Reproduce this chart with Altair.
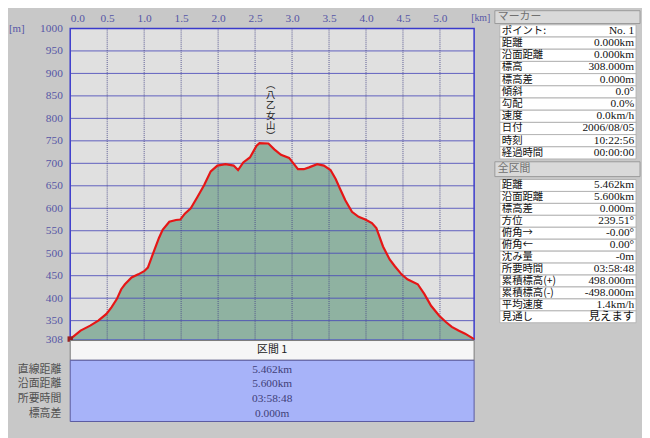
import altair as alt
import pandas as pd

# ---------------- data ----------------
dist_km = [0.00, 0.14, 0.27, 0.38, 0.49, 0.56, 0.63, 0.69, 0.74, 0.83, 0.92, 1.00, 1.05, 1.09,
           1.14, 1.20, 1.25, 1.34, 1.43, 1.49, 1.55, 1.63, 1.72, 1.81, 1.90, 1.99, 2.10, 2.21,
           2.27, 2.34, 2.43, 2.52, 2.56, 2.68, 2.76, 2.85, 2.96, 3.08, 3.16, 3.23, 3.34, 3.43,
           3.52, 3.59, 3.65, 3.72, 3.81, 3.90, 3.99, 4.08, 4.14, 4.23, 4.32, 4.39, 4.48, 4.56,
           4.70, 4.79, 4.88, 4.99, 5.08, 5.16, 5.25, 5.34, 5.462]
elev_m = [309, 328, 339, 350, 365, 380, 398, 420, 431, 446, 453, 460, 468, 486,
          508, 534, 552, 570, 574, 575, 588, 600, 625, 651, 682, 695, 698, 695,
          685, 702, 713, 739, 745, 744, 731, 719, 712, 687, 687, 691, 698, 695,
          685, 665, 643, 618, 592, 581, 575, 567, 556, 515, 486, 471, 453, 442,
          431, 409, 383, 361, 347, 336, 328, 321, 309]

x_ticks = [0.0, 0.5, 1.0, 1.5, 2.0, 2.5, 3.0, 3.5, 4.0, 4.5, 5.0]
y_ticks = [308, 350, 400, 450, 500, 550, 600, 650, 700, 750, 800, 850, 900, 950, 1000]
x_grid = [0.5, 1.0, 1.5, 2.0, 2.5, 3.0, 3.5, 4.0, 4.5, 5.0]
y_grid = [350, 400, 450, 500, 550, 600, 650, 700, 750, 800, 850, 900, 950]

peak_name = ["︵", "八", "乙", "女", "山", "︶"]
peak_pos = [2.71, 886]

marker_title = "マーカー"
marker_labels = ["ポイント:", "距離", "沿面距離", "標高", "標高差", "傾斜", "勾配", "速度",
                 "日付", "時刻", "経過時間"]
marker_values = ["No. 1", "0.000km", "0.000km", "308.000m", "0.000m", "0.0°", "0.0%",
                 "0.0km/h", "2006/08/05", "10:22:56", "00:00:00"]

total_title = "全区間"
total_labels = ["距離", "沿面距離", "標高差", "方位", "俯角→", "俯角←", "沈み量", "所要時間",
                "累積標高(+)", "累積標高(-)", "平均速度", "見通し"]
total_values = ["5.462km", "5.600km", "0.000m", "239.51°", "-0.00°", "0.00°", "-0m",
                "03:58:48", "498.000m", "-498.000m", "1.4km/h", "見えます"]

section_title = "区間 1"
section_labels = ["直線距離", "沿面距離", "所要時間", "標高差"]
section_values = ["5.462km", "5.600km", "03:58:48", "0.000m"]

unit_y = "[m]"
unit_x = "[km]"

# ---------------- layout / style ----------------
W, H = 409, 315
JP = "Noto Sans CJK JP"
NUM = "Liberation Serif, Noto Sans CJK JP"
AXIS_COL = "#5656a6"

one = pd.DataFrame({"k": [0]})
prof = pd.DataFrame({"d": dist_km, "e": elev_m})

xs = alt.Scale(domain=[0, 5.462], nice=False, zero=False)
ys = alt.Scale(domain=[308, 1000], nice=False, zero=False)

area = alt.Chart(prof).mark_area(color="#8fb2a1", opacity=1, clip=True).encode(
    x=alt.X("d:Q", scale=xs, title=None,
            axis=alt.Axis(orient="top", values=x_ticks, format=".1f", grid=False,
                          domain=False, ticks=False, labelPadding=5, labelFlush=True,
                          labelColor=AXIS_COL, labelFont=NUM, labelFontSize=11.5,
                          labelOverlap=False)),
    y=alt.Y("e:Q", scale=ys, title=None,
            axis=alt.Axis(values=y_ticks, format="d", grid=False, domain=False, ticks=False,
                          labelPadding=8, labelFlush=False, labelOverlap=False,
                          labelColor=AXIS_COL, labelFont=NUM, labelFontSize=11.5)),
)

hgrid = alt.Chart(pd.DataFrame({"g": y_grid})).mark_rule(
    color="#4848b8", strokeWidth=1, opacity=0.85).encode(
    y=alt.Y("g:Q", scale=ys, axis=None))
vgrid = alt.Chart(pd.DataFrame({"g": x_grid})).mark_rule(
    color="#4a4a8a", strokeWidth=1, strokeDash=[1, 1], opacity=0.9).encode(
    x=alt.X("g:Q", scale=xs, title=None))

line = alt.Chart(prof).mark_line(color="#e61616", strokeWidth=2.2).encode(
    x=alt.X("d:Q", scale=xs, title=None), y=alt.Y("e:Q", scale=ys, axis=None))

start = alt.Chart(prof.head(1)).mark_point(
    shape="square", filled=True, size=30, color="#9a2020", opacity=1).encode(
    x=alt.X("d:Q", scale=xs, title=None), y=alt.Y("e:Q", scale=ys, axis=None))

peak = alt.Chart(pd.DataFrame({"px": [peak_pos[0]], "py": [peak_pos[1]],
                               "t": ["\n".join(peak_name)]})).mark_text(
    font=JP, fontSize=9.5, lineHeight=10.5, lineBreak="\n", baseline="top",
    align="center", color="#202020").encode(
    x=alt.X("px:Q", scale=xs, title=None), y=alt.Y("py:Q", scale=ys, axis=None), text="t:N")

units = [
    alt.Chart(one).mark_text(text=unit_y, font=NUM, fontSize=11, color=AXIS_COL,
                             align="left", baseline="middle").encode(
        x=alt.value(-62), y=alt.value(1)),
    alt.Chart(one).mark_text(text=unit_x, font=NUM, fontSize=10, color=AXIS_COL,
                             align="left", baseline="middle").encode(
        x=alt.value(406), y=alt.value(-11)),
]


def box(x0, x1, y0, y1, fill, stroke, sw=1):
    return alt.Chart(one).mark_rect(fill=fill, stroke=stroke, strokeWidth=sw).encode(
        x=alt.value(x0), x2=alt.value(x1), y=alt.value(y0), y2=alt.value(y1))


def header(title, x0, x1, y0, y1):
    return [
        box(x0, x1, y0, y1, "#d9d9d9", "#9a9a9a"),
        alt.Chart(one).mark_text(text=title, font=JP, fontSize=11, color="#707070",
                                 align="left", baseline="middle").encode(
            x=alt.value(x0 + 3), y=alt.value((y0 + y1) / 2)),
    ]


def table(labels, values, key, r0, r1, x0, x1):
    n = len(labels)
    df = pd.DataFrame({"i": list(range(n)), "lab": labels, "val": values})
    df["lo"] = df["i"] - 0.5
    df["hi"] = df["i"] + 0.5
    sc = alt.Scale(domain=[0, n - 1], range=[r0, r1], nice=False, zero=False)
    f = key + "i"
    df = df.rename(columns={"i": f, "lo": key + "lo", "hi": key + "hi"})
    rows = alt.Chart(df).mark_rect(fill="#ffffff", stroke="#b4b4b4", strokeWidth=1).encode(
        x=alt.value(x0), x2=alt.value(x1),
        y=alt.Y(key + "lo:Q", scale=sc, axis=None), y2=alt.Y2(key + "hi:Q"))
    labs = alt.Chart(df).mark_text(font=JP, fontSize=10.5, color="#101010", align="left",
                                   baseline="middle").encode(
        x=alt.value(x0 + 2), y=alt.Y(f + ":Q", scale=sc, axis=None), text="lab:N")
    vals = alt.Chart(df).mark_text(font=NUM, fontSize=11.5, color="#101010", align="right",
                                   baseline="middle").encode(
        x=alt.value(x1 - 2), y=alt.Y(f + ":Q", scale=sc, axis=None), text="val:N")
    return [rows, labs, vals]


TX0, TX1 = 435, 573
right_panel = (header(marker_title, 430, 577, -18, -5)
               + table(marker_labels, marker_values, "m", 2.5, 126, TX0, TX1)
               + header(total_title, 430, 577, 135, 150)
               + table(total_labels, total_values, "t", 159, 292, TX0, TX1))

sdf = pd.DataFrame({"si": list(range(len(section_labels))), "lab": section_labels,
                    "val": section_values})
ssc = alt.Scale(domain=[0, len(section_labels) - 1], range=[345.5, 390], nice=False, zero=False)
bottom_panel = [
    box(0, W, 316, 336, "#f6f6f6", "#7a7a7a"),
    alt.Chart(one).mark_text(text=section_title, font=JP, fontSize=11, color="#202020",
                             align="center", baseline="middle").encode(
        x=alt.value(W / 2), y=alt.value(326)),
    box(0, W, 336, 398, "#a7b3f9", "#5a5aa0"),
    alt.Chart(sdf).mark_text(font=NUM, fontSize=11.5, color="#404078", align="center",
                             baseline="middle").encode(
        x=alt.value(W / 2), y=alt.Y("si:Q", scale=ssc, axis=None), text="val:N"),
    alt.Chart(sdf).mark_text(font=JP, fontSize=11, color="#505050", align="right",
                             baseline="middle").encode(
        x=alt.value(-9), y=alt.Y("si:Q", scale=ssc, axis=None), text="lab:N"),
]

chart = alt.layer(
    area, hgrid, vgrid, line, start, peak, *units, *right_panel, *bottom_panel
).resolve_scale(y="independent").properties(
    width=W, height=H,
    autosize=alt.AutoSizeParams(type="none"),
    padding={"left": 63, "top": 18, "right": 170, "bottom": 97},
    background="#c8c8c8",
).configure_view(
    fill="#e0e0e0", stroke="#3a3acc", strokeWidth=1.5
)

chart.save("out.html", embed_options={"renderer": "svg", "actions": False})
